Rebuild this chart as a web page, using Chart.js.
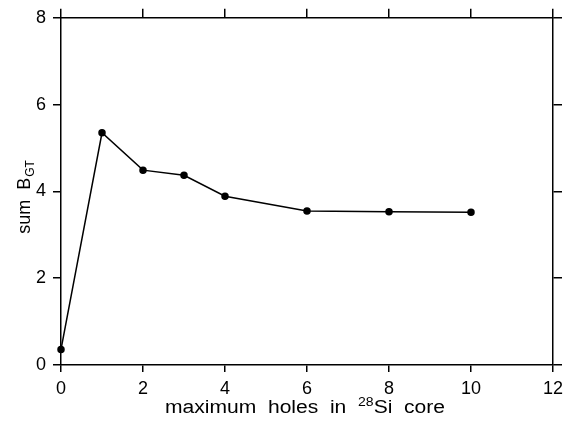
<!DOCTYPE html>
<html lang="en">
<head>
    <meta charset="UTF-8">
    <title>sum B_GT vs maximum holes</title>
    <script src="https://cdn.jsdelivr.net/npm/chart.js"></script>
    <style>
        body { margin: 0; background: #fff; }
    </style>
</head>
<body>
    <canvas id="myChart" width="572" height="422"></canvas>
    <script>
        // data
        const holes = [0, 1, 2, 3, 4, 6, 8, 10];
        const sumBGT = [0.36, 5.35, 4.49, 4.37, 3.89, 3.55, 3.53, 3.52];
        const xTicks = [0, 2, 4, 6, 8, 10, 12];
        const yTicks = [0, 2, 4, 6, 8];

        const FONT = '"Liberation Sans", Arial, sans-serif';

        // axis titles with sub/superscripts, drawn by hand
        const titlePlugin = {
            id: 'titles',
            afterDraw(chart) {
                const ctx = chart.ctx;
                const area = chart.chartArea;
                ctx.save();
                ctx.fillStyle = '#000';
                ctx.textBaseline = 'alphabetic';
                ctx.textAlign = 'left';

                // x title: maximum holes in 28Si core (the original type is wide)
                const big = '18px ' + FONT;
                const small = '12px ' + FONT;
                const a = 'maximum  holes  in  ', sup = '28', b = 'Si  core';
                ctx.font = big;
                const wa = ctx.measureText(a).width, wb = ctx.measureText(b).width;
                ctx.font = small;
                const ws = ctx.measureText(sup).width;
                const total = wa + ws + wb;
                const sx = 280 / total;
                ctx.save();
                ctx.translate((area.left + area.right) / 2 - 2, 413);
                ctx.scale(sx, 1);
                let x = -total / 2;
                ctx.font = big;
                ctx.fillText(a, x, 0);
                x += wa;
                ctx.font = small;
                ctx.fillText(sup, x, -7);
                x += ws;
                ctx.font = big;
                ctx.fillText(b, x, 0);
                ctx.restore();

                // y title: sum B_GT
                ctx.translate(30, (area.top + area.bottom) / 2 + 6);
                ctx.rotate(-Math.PI / 2);
                const c = 'sum  B', sub = 'GT';
                ctx.font = big;
                const wc = ctx.measureText(c).width;
                ctx.font = small;
                const wsub = ctx.measureText(sub).width;
                let tx = -(wc + wsub) / 2;
                ctx.font = big;
                ctx.fillText(c, tx, 0);
                ctx.font = small;
                ctx.fillText(sub, tx + wc + 1, 4);
                ctx.restore();
            }
        };

        const axisGrid = (len) => ({
            drawOnChartArea: false,
            drawTicks: true,
            tickLength: len,
            color: '#000',
            lineWidth: 1.5
        });
        const axisBorder = { display: true, color: '#000', width: 1.5 };

        const ctx = document.getElementById('myChart').getContext('2d');
        const myChart = new Chart(ctx, {
            type: 'scatter',
            data: {
                datasets: [{
                    label: 'sum BGT',
                    data: holes.map((h, i) => ({ x: h, y: sumBGT[i] })),
                    showLine: true,
                    borderColor: '#000',
                    borderWidth: 1.5,
                    pointBackgroundColor: '#000',
                    pointBorderColor: '#000',
                    pointRadius: 3,
                    clip: false
                }]
            },
            options: {
                responsive: false,
                animation: false,
                layout: { padding: 0 },
                plugins: {
                    legend: { display: false },
                    tooltip: { enabled: false }
                },
                scales: {
                    x: {
                        type: 'linear',
                        position: 'bottom',
                        min: 0,
                        max: 12,
                        afterBuildTicks: s => { s.ticks = xTicks.map(v => ({ value: v })); },
                        ticks: { color: '#000', font: { family: FONT, size: 18 }, padding: 6, maxRotation: 0 },
                        grid: axisGrid(7),
                        border: axisBorder,
                        afterFit: s => { s.height = 57; }
                    },
                    x2: {
                        type: 'linear',
                        position: 'top',
                        min: 0,
                        max: 12,
                        afterBuildTicks: s => { s.ticks = xTicks.map(v => ({ value: v })); },
                        ticks: { display: false },
                        grid: axisGrid(9),
                        border: axisBorder,
                        afterFit: s => { s.height = 14; }
                    },
                    y: {
                        type: 'linear',
                        position: 'left',
                        min: 0,
                        max: 8,
                        afterBuildTicks: s => { s.ticks = yTicks.map(v => ({ value: v })); },
                        ticks: { color: '#000', font: { family: FONT, size: 18 }, padding: 7 },
                        grid: axisGrid(8),
                        border: axisBorder,
                        afterFit: s => { s.width = 61; }
                    },
                    y2: {
                        type: 'linear',
                        position: 'right',
                        min: 0,
                        max: 8,
                        afterBuildTicks: s => { s.ticks = yTicks.map(v => ({ value: v })); },
                        ticks: { display: false },
                        grid: axisGrid(9),
                        border: axisBorder,
                        afterFit: s => { s.width = 19; }
                    }
                }
            },
            plugins: [titlePlugin]
        });
    </script>
</body>
</html>
